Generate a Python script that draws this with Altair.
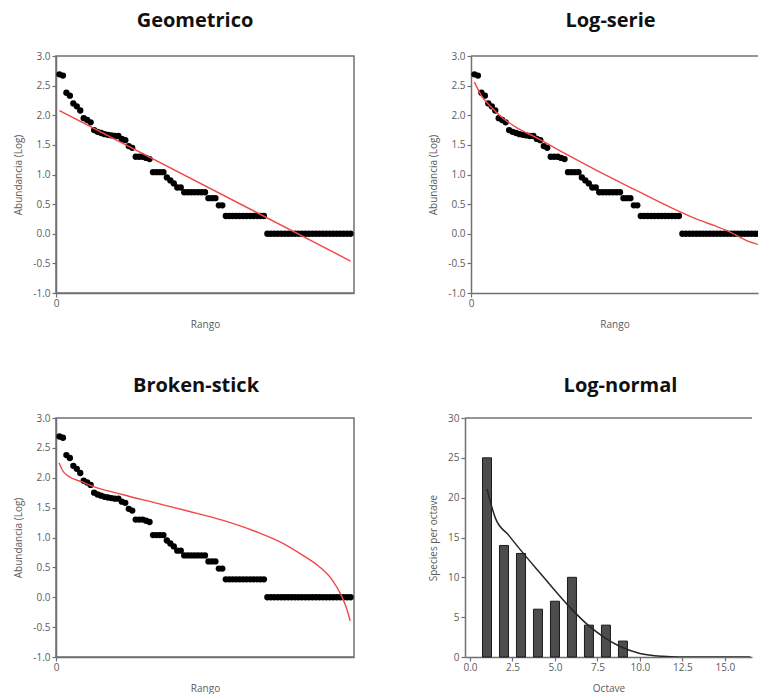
import altair as alt
import pandas as pd

# Ranked species abundances, log10 scale (rank 1 = most abundant species)
rank_log_abundance = [
    2.69, 2.67, 2.38, 2.33, 2.20, 2.15, 2.08, 1.95, 1.92, 1.88,
    1.75, 1.72, 1.70, 1.68, 1.67, 1.66, 1.65, 1.65, 1.60, 1.58,
    1.48, 1.45, 1.30, 1.30, 1.30, 1.28, 1.26, 1.04, 1.04, 1.04,
    1.04, 0.95, 0.90, 0.85, 0.78, 0.78, 0.70, 0.70, 0.70, 0.70,
    0.70, 0.70, 0.70, 0.60, 0.60, 0.60, 0.48, 0.48, 0.30, 0.30,
    0.30, 0.30, 0.30, 0.30, 0.30, 0.30, 0.30, 0.30, 0.30, 0.30,
    0.00, 0.00, 0.00, 0.00, 0.00, 0.00, 0.00, 0.00, 0.00, 0.00,
    0.00, 0.00, 0.00, 0.00, 0.00, 0.00, 0.00, 0.00, 0.00, 0.00,
    0.00, 0.00, 0.00, 0.00, 0.00,
]
ranks = list(range(1, len(rank_log_abundance) + 1))

# Fitted models (log10 abundance against rank)
geo_rank = [1, 85]
geo_fit = [2.08, -0.46]

logser_rank = [1, 2.9, 5.8, 8.6, 13.5, 18.3, 27.9, 37.5, 47.1, 56.7, 66.3, 70.1, 74.0, 79.7, 83.5]
logser_fit = [2.56, 2.34, 2.14, 1.98, 1.78, 1.64, 1.33, 1.03, 0.75, 0.47, 0.22, 0.14, 0.05, -0.12, -0.19]

bs_rank = [0.9, 1.8, 3.75, 7.6, 10.5, 19.1, 28.7, 38.3, 48.0, 57.6, 65.2, 71.0, 75.8, 79.7, 82.5, 84.0, 84.9]
bs_fit = [2.25, 2.13, 2.02, 1.93, 1.86, 1.72, 1.58, 1.44, 1.29, 1.10, 0.91, 0.71, 0.52, 0.29, 0.01, -0.21, -0.40]

# Species per octave and the fitted log-normal curve
octaves = [1, 2, 3, 4, 5, 6, 7, 8, 9]
species_per_octave = [25, 14, 13, 6, 7, 10, 4, 4, 2]
ln_octave = [1.0, 1.5, 2.27, 3.2, 4.16, 5.1, 6.05, 7.0, 7.94, 8.9, 10.0, 11.35, 12.3, 16.5]
ln_fit = [21.1, 17.4, 15.3, 12.85, 10.45, 8.1, 5.85, 3.9, 2.4, 1.25, 0.45, 0.08, 0.0, 0.0]

FONT = "Open Sans"
TEXT_GRAY = "#5c5c5c"
FRAME = "#707070"
RED = "#f04848"

LEFT_W, RIGHT_W = 298, 287
TOP_H, BOTTOM_H = 237, 239

points = pd.DataFrame({"rank": ranks, "logab": rank_log_abundance})


def panel_title(text, dx, offset):
    return alt.TitleParams(
        text=text, font=FONT, fontSize=20, fontWeight="bold", color="#111111",
        anchor="middle", frame="group", dx=dx, offset=offset, baseline="bottom",
    )


def y_log_axis():
    return alt.Axis(
        title="Abundancia (Log)", values=[-1.0, -0.5, 0.0, 0.5, 1.0, 1.5, 2.0, 2.5, 3.0],
        labelExpr="replace(format(datum.value, '.1f'), '\u2212', '-')",
        tickSize=4, labelPadding=2, titlePadding=9, labelOverlap=False, labelFlush=False,
    )


def x_rank_axis():
    return alt.Axis(title="Rango", values=[0], format="d", tickSize=4,
                    labelPadding=1, titlePadding=11, labelOverlap=False, labelFlush=False)


def oct_axis():
    return alt.Axis(title="Octave", values=[0, 2.5, 5, 7.5, 10, 12.5, 15], format=".1f",
                    tickSize=4, labelPadding=1, titlePadding=11,
                    labelOverlap=False, labelFlush=False)


def count_axis():
    return alt.Axis(title="Species per octave", values=[0, 5, 10, 15, 20, 25, 30],
                    tickSize=4, labelPadding=2, titlePadding=9,
                    labelOverlap=False, labelFlush=False)


def rank_panel(title, dx, offset, fit_rank, fit_vals, width, height, xmax, open_right):
    x_scale = alt.Scale(domain=[0, xmax], nice=False, zero=False)
    y_scale = alt.Scale(domain=[-1.0, 3.0], nice=False, zero=False)
    dots = alt.Chart(points).mark_circle(size=40, color="black", opacity=1, clip=True).encode(
        x=alt.X("rank:Q", scale=x_scale, axis=x_rank_axis()),
        y=alt.Y("logab:Q", scale=y_scale, axis=y_log_axis()),
    )
    fit = alt.Chart(pd.DataFrame({"rank": fit_rank, "fit": fit_vals})).mark_line(
        color=RED, strokeWidth=1.4, clip=True, interpolate="monotone"
    ).encode(
        x=alt.X("rank:Q", scale=x_scale, axis=x_rank_axis()),
        y=alt.Y("fit:Q", scale=y_scale, axis=y_log_axis()),
    )
    layers = [dots, fit]
    props = dict(width=width, height=height, title=panel_title(title, dx, offset))
    if open_right:
        top = alt.Chart(pd.DataFrame({"top": [3.0]})).mark_rule(
            color=FRAME, strokeWidth=1.5
        ).encode(y=alt.Y("top:Q", scale=y_scale, axis=y_log_axis()))
        layers.append(top)
        props["view"] = alt.ViewBackground(stroke="transparent")
    return alt.layer(*layers).properties(**props)


geo = rank_panel("Geometrico", -10, 0, geo_rank, geo_fit, LEFT_W, TOP_H, 86, False)
logser = rank_panel("Log-serie", -4, 0, logser_rank, logser_fit, RIGHT_W, TOP_H,
                    86 * RIGHT_W / LEFT_W, True)
broken = rank_panel("Broken-stick", -9, -3, bs_rank, bs_fit, LEFT_W, BOTTOM_H, 86, False)

# Log-normal histogram panel
oct_scale = alt.Scale(domain=[0, 16.3], nice=False, zero=False)
cnt_scale = alt.Scale(domain=[0, 30], nice=False)
bars = alt.Chart(pd.DataFrame({"octave": octaves, "species": species_per_octave})).mark_bar(
    size=9, color="#4d4d4d", stroke="#1a1a1a", strokeWidth=1
).encode(
    x=alt.X("octave:Q", scale=oct_scale, axis=oct_axis()),
    y=alt.Y("species:Q", scale=cnt_scale, axis=count_axis()),
)
ln_curve = alt.Chart(pd.DataFrame({"octave": ln_octave, "fit": ln_fit})).mark_line(
    color="#262626", strokeWidth=1.5, clip=True, interpolate="monotone"
).encode(
    x=alt.X("octave:Q", scale=oct_scale, axis=oct_axis()),
    y=alt.Y("fit:Q", scale=cnt_scale, axis=count_axis()),
)
ln_top = alt.Chart(pd.DataFrame({"top": [30]})).mark_rule(
    color=FRAME, strokeWidth=1.5
).encode(y=alt.Y("top:Q", scale=cnt_scale, axis=count_axis()))
lognormal = alt.layer(bars, ln_curve, ln_top).properties(
    width=RIGHT_W, height=BOTTOM_H, title=panel_title("Log-normal", 12, -3),
    view=alt.ViewBackground(stroke="transparent"),
)

chart = alt.vconcat(
    alt.hconcat(geo, logser, spacing=72),
    alt.hconcat(broken, lognormal, spacing=72),
    spacing=45,
).properties(
    padding={"left": 12, "top": 10, "right": 0, "bottom": 0},
    background="white",
).configure_view(
    stroke=FRAME, strokeWidth=1.5,
).configure_axis(
    grid=False, domainColor=FRAME, domainWidth=1.5, tickColor=FRAME, tickWidth=1.2,
    labelFont=FONT, labelFontSize=10, labelColor=TEXT_GRAY,
    titleFont=FONT, titleFontSize=10, titleColor=TEXT_GRAY, titleFontWeight="normal",
)

chart.save("out.html", embed_options={"renderer": "svg", "actions": False})
